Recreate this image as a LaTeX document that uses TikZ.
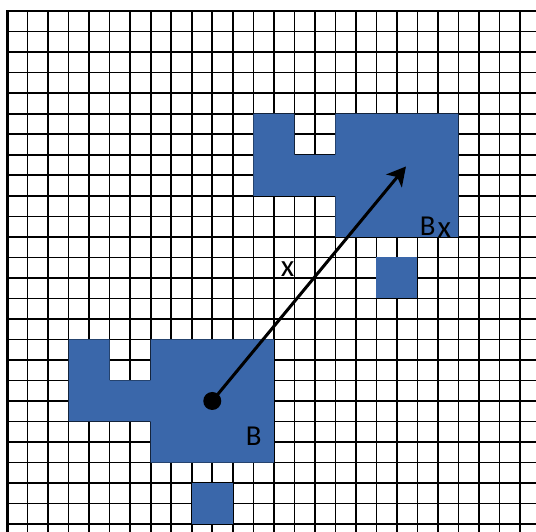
\documentclass[tikz,border=0pt]{standalone}
\usepackage{fontspec}
\setmainfont{Carlito}
\usepackage{xcolor}
\usepackage{tikz}
\usetikzlibrary{arrows.meta}

\definecolor{cellblue}{RGB}{58,103,170}

\begin{document}
\begin{tikzpicture}[
  x=0.5cm,y=-0.5cm,>={Stealth[length=13pt,width=14pt,inset=3.5pt]},
  gridline/.style={line width=1.1pt,black},
  frame/.style={line width=2.2pt,black},
  cell/.style={fill=cellblue,draw=none},
  move/.style={->,line width=2.1pt,black},
  dot/.style={circle,fill=black,inner sep=0pt,minimum size=12.5pt},
  lbl/.style={inner sep=0pt,anchor=base west,font=\fontsize{20}{24}\selectfont},
  lblx/.style={inner sep=0pt,anchor=base west,font=\fontsize{21.5}{24}\selectfont}
]
  \useasboundingbox (-0.3457,-0.543) rectangle (25.778,25.383);
  \fill[white] (-0.3457,-0.543) rectangle (25.778,25.383);

  \foreach \k in {1,...,25}
    \draw[gridline] (\k,0) -- (\k,25.383);
  \foreach \k in {1,...,25}
    \draw[gridline] (0,\k) -- (25.778,\k);
  \draw[frame,line width=1.7pt] (0,0) -- (25.778,0);
  \draw[frame] (0,-0.05) -- (0,25.383);

  \fill[cell] (3,16) -- (5,16) -- (5,18) -- (7,18) -- (7,16) -- (13,16)
    -- (13,22) -- (7,22) -- (7,20) -- (3,20) -- cycle;
  \fill[cell] (9,23) rectangle (11,25);
  \fill[cell] (12,5) -- (14,5) -- (14,7) -- (16,7) -- (16,5) -- (22,5)
    -- (22,11) -- (16,11) -- (16,9) -- (12,9) -- cycle;
  \fill[cell] (18,12) rectangle (20,14);

  \node[dot] (origin) at (10,19) {};
  \coordinate (target) at (19.44,7.57);
  \draw[move] (origin.center) -- (target);

  \node[lbl] (setB) at (11.62,21.15) {B};
  \node[lbl] (setBx) at (20.1,10.95)
    {B\kern1.5pt\raisebox{-1.1pt}{\fontsize{21.5}{24}\selectfont x}};
  \node[lblx] (vecx) at (13.33,12.92) {x};
\end{tikzpicture}
\end{document}
